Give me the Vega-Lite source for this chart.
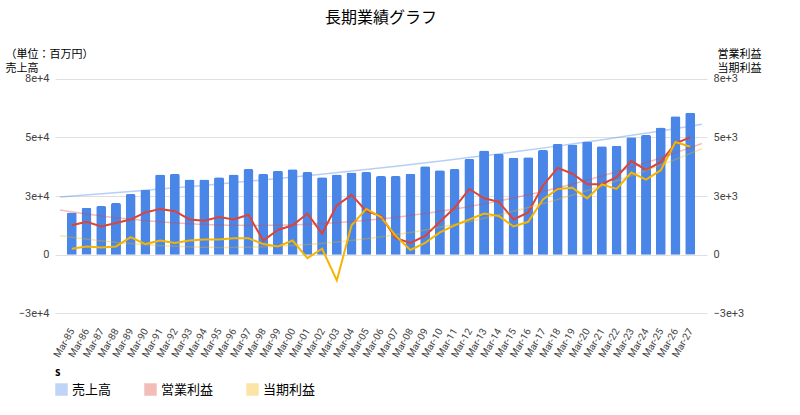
{
  "$schema": "https://vega.github.io/schema/vega-lite/v6.json",
  "width": 652,
  "height": 258,
  "padding": {"left": 5, "top": 10, "right": 10, "bottom": 5},
  "title": {"text": "長期業績グラフ", "fontSize": 16, "font": "Noto Sans CJK JP", "fontWeight": "normal", "offset": 22, "anchor": "middle"},
  "config": {"font": "Noto Sans CJK JP", "view": {"stroke": null}},
  "data": {"values": [
    {"i": 0, "sales": 18000, "op": 1250, "net": 250},
    {"i": 1, "sales": 20000, "op": 1400, "net": 350},
    {"i": 2, "sales": 20700, "op": 1200, "net": 300},
    {"i": 3, "sales": 22000, "op": 1350, "net": 350},
    {"i": 4, "sales": 25800, "op": 1500, "net": 750},
    {"i": 5, "sales": 27700, "op": 1800, "net": 450},
    {"i": 6, "sales": 34200, "op": 1950, "net": 600},
    {"i": 7, "sales": 34400, "op": 1850, "net": 500},
    {"i": 8, "sales": 32000, "op": 1500, "net": 600},
    {"i": 9, "sales": 32000, "op": 1450, "net": 650},
    {"i": 10, "sales": 33000, "op": 1600, "net": 650},
    {"i": 11, "sales": 34200, "op": 1500, "net": 700},
    {"i": 12, "sales": 36500, "op": 1700, "net": 700},
    {"i": 13, "sales": 34400, "op": 600, "net": 450},
    {"i": 14, "sales": 35800, "op": 1050, "net": 350},
    {"i": 15, "sales": 36400, "op": 1250, "net": 600},
    {"i": 16, "sales": 35200, "op": 1750, "net": -150},
    {"i": 17, "sales": 33000, "op": 900, "net": 250},
    {"i": 18, "sales": 34200, "op": 2100, "net": -1100},
    {"i": 19, "sales": 35000, "op": 2550, "net": 1250},
    {"i": 20, "sales": 35200, "op": 1850, "net": 1950},
    {"i": 21, "sales": 33500, "op": 1650, "net": 1600},
    {"i": 22, "sales": 33500, "op": 700, "net": 800},
    {"i": 23, "sales": 34500, "op": 500, "net": 200},
    {"i": 24, "sales": 37700, "op": 800, "net": 500},
    {"i": 25, "sales": 36000, "op": 1400, "net": 950},
    {"i": 26, "sales": 36500, "op": 2000, "net": 1250},
    {"i": 27, "sales": 40800, "op": 2800, "net": 1500},
    {"i": 28, "sales": 44400, "op": 2400, "net": 1750},
    {"i": 29, "sales": 43000, "op": 2250, "net": 1650},
    {"i": 30, "sales": 41300, "op": 1500, "net": 1200},
    {"i": 31, "sales": 41500, "op": 1800, "net": 1400},
    {"i": 32, "sales": 44600, "op": 2950, "net": 2350},
    {"i": 33, "sales": 47200, "op": 3700, "net": 2800},
    {"i": 34, "sales": 47000, "op": 3450, "net": 2850},
    {"i": 35, "sales": 48200, "op": 3000, "net": 2400},
    {"i": 36, "sales": 46200, "op": 3000, "net": 3000},
    {"i": 37, "sales": 46400, "op": 3300, "net": 2800},
    {"i": 38, "sales": 50000, "op": 4000, "net": 3500},
    {"i": 39, "sales": 51000, "op": 3600, "net": 3200},
    {"i": 40, "sales": 54200, "op": 3950, "net": 3600},
    {"i": 41, "sales": 59000, "op": 4750, "net": 4800},
    {"i": 42, "sales": 60500, "op": 5000, "net": 4600}
  ]},
  "encoding": {
    "x": {"field": "i", "type": "quantitative", "title": null,
      "scale": {"domain": [-0.8, 42.8], "nice": false, "zero": false},
      "axis": {"values": [0,1,2,3,4,5,6,7,8,9,10,11,12,13,14,15,16,17,18,19,20,21,22,23,24,25,26,27,28,29,30,31,32,33,34,35,36,37,38,39,40,41,42],
        "labelExpr": "'Mar-' + slice('0' + ((85 + datum.value) % 100), -2)",
        "labelAngle": -60, "labelAlign": "right", "labelBaseline": "middle", "labelFontSize": 10, "labelFont": "Roboto", "labelColor": "#444",
        "ticks": false, "domain": false, "grid": false, "labelPadding": 4, "labelOverlap": false}}
  },
  "layer": [
    {
      "layer": [
        {
          "mark": {"type": "bar", "color": "#4a86e8", "size": 10, "cornerRadiusTopLeft": 2, "cornerRadiusTopRight": 2},
          "encoding": {
            "y": {"field": "sales", "type": "quantitative", "scale": {"domain": [-25000, 75000]},
              "axis": {"values": [-25000, 0, 25000, 50000, 75000], "format": ",", "title": ["（単位：百万円）", "", "売上高"], "titleAngle": 0, "titleAnchor": "end", "titleAlign": "left", "titleBaseline": "bottom", "titleX": -50, "titleY": -8, "titleFontWeight": "normal", "titleFontSize": 11, "titleLineHeight": 14, "labelFont": "Roboto", "labelFontSize": 11, "labelColor": "#444", "domain": false, "ticks": false, "gridColor": "#e0e0e0", "labelPadding": 6}},
            "color": {"datum": "売上高", "type": "nominal", "scale": {"domain": ["売上高", "営業利益", "当期利益"], "range": ["#4a86e8", "#db4437", "#f4b400"]},
              "legend": {"orient": "bottom", "title": null, "labelFontSize": 13, "symbolType": "square", "symbolSize": 120, "columnPadding": 30, "offset": 8}}
          }
        },
        {
          "transform": [{"regression": "sales", "on": "i", "method": "exp", "extent": [-0.8, 42.8]}],
          "mark": {"type": "line", "color": "#4a86e8", "opacity": 0.4, "strokeWidth": 1.5},
          "encoding": {
            "y": {"field": "sales", "type": "quantitative"}
          }
        },
        {
          "mark": {"type": "rule", "color": "#555"},
          "encoding": {"y": {"datum": 0, "type": "quantitative"}}
        }
      ]
    },
    {
      "transform": [{"fold": ["op", "net"], "as": ["k", "v"]}, {"calculate": "datum.k == 'op' ? '営業利益' : '当期利益'", "as": "s"}],
      "layer": [
        {
          "mark": {"type": "line", "strokeWidth": 2},
          "encoding": {
            "y": {"field": "v", "type": "quantitative", "scale": {"domain": [-2500, 7500]},
              "axis": {"orient": "right", "values": [-2500, 0, 2500, 5000, 7500], "format": ",", "grid": false, "title": ["営業利益", "当期利益"], "titleAngle": 0, "titleAnchor": "end", "titleAlign": "right", "titleBaseline": "bottom", "titleX": 54, "titleY": -8, "titleFontWeight": "normal", "titleFontSize": 11, "titleLineHeight": 14, "labelFont": "Roboto", "labelFontSize": 11, "labelColor": "#444", "domain": false, "ticks": false, "labelPadding": 6}},
            "color": {"field": "s", "type": "nominal"}
          }
        },
        {
          "transform": [{"regression": "v", "on": "i", "groupby": ["s"], "method": "poly", "order": 2, "extent": [-0.8, 42.8]}],
          "mark": {"type": "line", "opacity": 0.35, "strokeWidth": 1.5},
          "encoding": {
            "y": {"field": "v", "type": "quantitative"},
            "color": {"field": "s", "type": "nominal"}
          }
        }
      ]
    }
  ],
  "resolve": {"scale": {"y": "independent"}}
}
